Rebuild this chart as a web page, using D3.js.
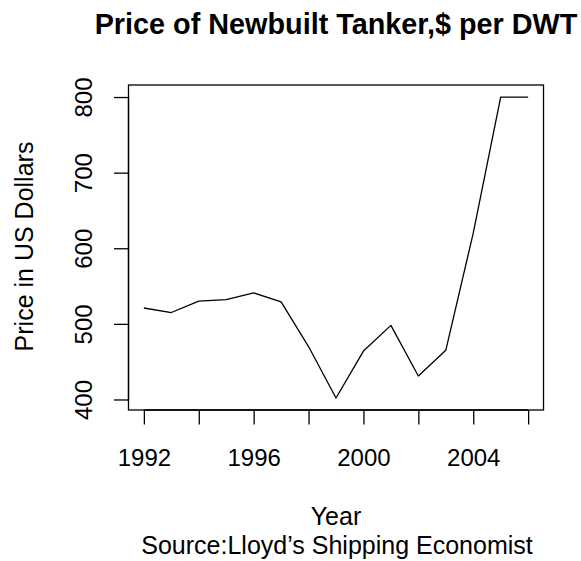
<!DOCTYPE html>
<html>
<head>
<meta charset="utf-8">
<script src="https://cdn.jsdelivr.net/npm/d3@7"></script>
<style>
  html, body { margin: 0; padding: 0; background: #fff; }
  svg { display: block; font-family: "Liberation Sans", Arial, Helvetica, sans-serif; }
</style>
</head>
<body>
<svg id="chart" width="581" height="561"></svg>
<script>
const years = [1992, 1993, 1994, 1995, 1996, 1997, 1998, 1999, 2000, 2001, 2002, 2003, 2004, 2005, 2006];
const prices = [521, 515, 530, 532, 541, 529, 470, 402, 464, 498, 431, 465, 620, 800, 800];
const xTicks = [1992, 1994, 1996, 1998, 2000, 2002, 2004, 2006];
const xLabels = [1992, 1996, 2000, 2004];
const yTicks = [400, 500, 600, 700, 800];
const titleText = "Price of Newbuilt Tanker,$ per DWT";
const xTitle = "Year";
const subTitle = "Source:Lloyd\u2019s Shipping Economist";
const yTitle = "Price in US Dollars";

const svg = d3.select("#chart");
const L = 128.5, R = 543.5, T = 85, B = 410;

function rExtend(ext) {
  const d = (ext[1] - ext[0]) * 0.04;
  return [ext[0] - d, ext[1] + d];
}
const x = d3.scaleLinear().domain(rExtend(d3.extent(years))).range([L, R]);
const y = d3.scaleLinear().domain(rExtend(d3.extent(prices))).range([B, T]);

// box
svg.append("rect").attr("x", L).attr("y", T).attr("width", R - L).attr("height", B - T)
  .attr("fill", "none").attr("stroke", "#000").attr("stroke-width", 1.3);

// line
const line = d3.line().x((d, i) => x(years[i])).y(d => y(d));
svg.append("path").datum(prices).attr("d", line)
  .attr("fill", "none").attr("stroke", "#000").attr("stroke-width", 1.3)
  .attr("stroke-linejoin", "round");

// x axis
const xAxis = d3.axisBottom(x).tickValues(xTicks).tickSize(14.5).tickSizeOuter(0)
  .tickFormat(d => xLabels.includes(d) ? d : "");
const gx = svg.append("g").attr("transform", `translate(0,${B})`).call(xAxis);
gx.select(".domain").attr("d", `M${x(xTicks[0])},0H${x(xTicks[xTicks.length-1])}`)
  .attr("stroke-width", 1.3);
gx.selectAll(".tick line").attr("stroke-width", 1.3);
gx.selectAll(".tick text").attr("font-size", 24).attr("font-family", "Liberation Sans, Arial, sans-serif")
  .attr("fill", "#000").attr("y", 0).attr("dy", 0).attr("transform", "translate(0,56)");

// y axis
const yAxis = d3.axisLeft(y).tickValues(yTicks).tickSize(14.5).tickSizeOuter(0);
const gy = svg.append("g").attr("transform", `translate(${L},0)`).call(yAxis);
gy.select(".domain").attr("d", `M0,${y(yTicks[0])}V${y(yTicks[yTicks.length-1])}`)
  .attr("stroke-width", 1.3);
gy.selectAll(".tick line").attr("stroke-width", 1.3);
gy.selectAll(".tick text").attr("font-size", 24).attr("font-family", "Liberation Sans, Arial, sans-serif")
  .attr("fill", "#000").attr("x", 0).attr("dy", 0)
  .attr("text-anchor", "middle")
  .attr("transform", "translate(-36.5,0) rotate(-90)");

// titles
const cx = (L + R) / 2;
svg.append("text").attr("x", cx).attr("y", 34).attr("text-anchor", "middle")
  .attr("font-size", 28.8).attr("font-weight", "bold").text(titleText);
svg.append("text").attr("x", cx).attr("y", 525).attr("text-anchor", "middle")
  .attr("font-size", 25).text(xTitle);
svg.append("text").attr("x", cx + 1).attr("y", 553.5).attr("text-anchor", "middle")
  .attr("font-size", 25).text(subTitle);
svg.append("text").attr("transform", `translate(33,${(T + B) / 2 - 1}) rotate(-90)`)
  .attr("text-anchor", "middle").attr("font-size", 25).text(yTitle);
</script>
</body>
</html>
